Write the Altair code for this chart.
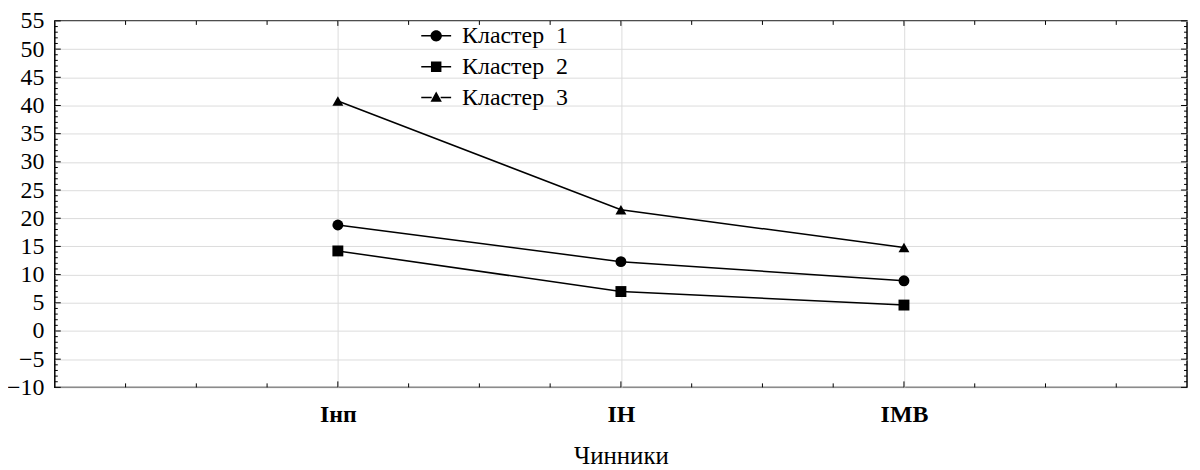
import altair as alt
import numpy as np
import pandas as pd

# ---- data ----
factors = ["Інп", "ІН", "ІМВ"]
series = ["Кластер\u00a0\u00a01", "Кластер\u00a0\u00a02", "Кластер\u00a0\u00a03"]
cluster1 = [18.8, 12.3, 8.9]
cluster2 = [14.2, 7.0, 4.6]
cluster3 = [40.8, 21.5, 14.8]
y_tick_values = list(range(-10, 56, 5))
x_title = "Чинники"

W, H = 1137, 368
FONT = "Liberation Serif"
GRID = "#dcdcdc"

rows = []
for name, vals in zip(series, [cluster1, cluster2, cluster3]):
    for i, (f, v) in enumerate(zip(factors, vals)):
        rows.append({"series": name, "factor": f, "pos": i + 1, "value": v})
df = pd.DataFrame(rows)

xscale = alt.Scale(domain=[0, len(factors) + 1], nice=False, zero=False)
yscale = alt.Scale(domain=[y_tick_values[0], y_tick_values[-1]], nice=False, zero=False)

label_expr = " : ".join(
    f"datum.value == {i + 1} ? '{f}'" for i, f in enumerate(factors)
) + " : ''"

x_axis = alt.Axis(
    values=list(range(1, len(factors) + 1)), labelExpr=label_expr,
    grid=True, gridColor=GRID, gridWidth=1, ticks=False, domain=False,
    labelFont=FONT, labelFontSize=24, labelFontWeight="bold", labelColor="black",
    labelPadding=15, labelOverlap=False,
    title=x_title, titleFont=FONT, titleFontSize=25,
    titleFontWeight="normal", titleColor="black", titlePadding=17,
)
y_axis = alt.Axis(
    values=y_tick_values, grid=True, gridColor=GRID, gridWidth=1, ticks=False,
    domain=False, labelFont=FONT, labelFontSize=24, labelColor="black",
    labelPadding=11, labelOverlap=False, title=None,
)

# legend symbols: a short line with the marker on it (filled paths)
seg = "M-1,-0.05H-0.3V0.05H-1Z M0.3,-0.05H1V0.05H0.3Z "
legend_paths = [
    seg + "M0.38,0A0.38,0.38,0,1,1,-0.38,0A0.38,0.38,0,1,1,0.38,0Z",
    seg + "M-0.35,-0.35H0.35V0.35H-0.35Z",
    seg + "M0,-0.4L0.38,0.28H-0.38Z",
]

legend = alt.Legend(
    orient="none", legendX=368, legendY=0, direction="vertical", title=None,
    symbolSize=900, symbolFillColor="black", symbolStrokeColor="black",
    symbolStrokeWidth=0, symbolOpacity=1, labelFont=FONT, labelFontSize=24,
    labelColor="black", labelOffset=11, rowPadding=4, padding=0,
)

base = alt.Chart(df)
lines = base.mark_line(color="black", strokeWidth=1.5).encode(
    x=alt.X("pos:Q", scale=xscale, axis=x_axis),
    y=alt.Y("value:Q", scale=yscale, axis=y_axis),
    detail="series:N",
)
points = base.mark_point(filled=True, size=120, color="black", opacity=1).encode(
    x=alt.X("pos:Q", scale=xscale, axis=None),
    y=alt.Y("value:Q", scale=yscale, axis=None),
    shape=alt.Shape("series:N",
                    scale=alt.Scale(domain=series, range=["circle", "square", "triangle-up"]),
                    legend=None),
)
# invisible layer that only carries the legend
legend_layer = base.mark_point(filled=True, color="black", opacity=0).encode(
    x=alt.X("pos:Q", scale=xscale, axis=None),
    y=alt.Y("value:Q", scale=yscale, axis=None),
    shape=alt.Shape("series:N",
                    scale=alt.Scale(domain=series, range=legend_paths),
                    legend=legend),
)

# inward tick marks on all four sides
x_major = list(range(1, len(factors) + 1))
x_minor = [float(v) for v in np.arange(0.25, len(factors) + 1, 0.25) if v % 1 != 0]
y_major = y_tick_values
y_minor = [v for v in range(y_tick_values[0], y_tick_values[-1] + 1) if v % 5 != 0]


def xticks(vals, length, top):
    d = pd.DataFrame({"p": vals})
    if top:
        yy, yy2 = alt.value(0), alt.value(length)
    else:
        yy, yy2 = alt.value(H), alt.value(H - length)
    return alt.Chart(d).mark_rule(color="black", strokeWidth=1).encode(
        x=alt.X("p:Q", scale=xscale, axis=None), y=yy, y2=yy2)


def yticks(vals, length, right):
    d = pd.DataFrame({"p": vals})
    if right:
        xx, xx2 = alt.value(W), alt.value(W - length)
    else:
        xx, xx2 = alt.value(0), alt.value(length)
    return alt.Chart(d).mark_rule(color="black", strokeWidth=1).encode(
        y=alt.Y("p:Q", scale=yscale, axis=None), x=xx, x2=xx2)


ticks = [
    xticks(x_major, 6, False), xticks(x_minor, 4, False),
    xticks(x_major, 5, True), xticks(x_minor, 4, True),
    yticks(y_major, 6, False), yticks(y_minor, 3, False),
    yticks(y_major, 6, True), yticks(y_minor, 3, True),
]

chart = alt.layer(lines, points, legend_layer, *ticks).resolve_scale(
    shape="independent"
).resolve_axis(
    x="independent", y="independent"
).properties(
    width=W, height=H, background="white",
    autosize=alt.AutoSizeParams(type="none"),
    padding={"left": 47, "top": 12, "right": 5, "bottom": 82},
).configure_view(stroke="black", strokeWidth=1.5)

chart.save("out.html", embed_options={"renderer": "svg", "actions": False})
